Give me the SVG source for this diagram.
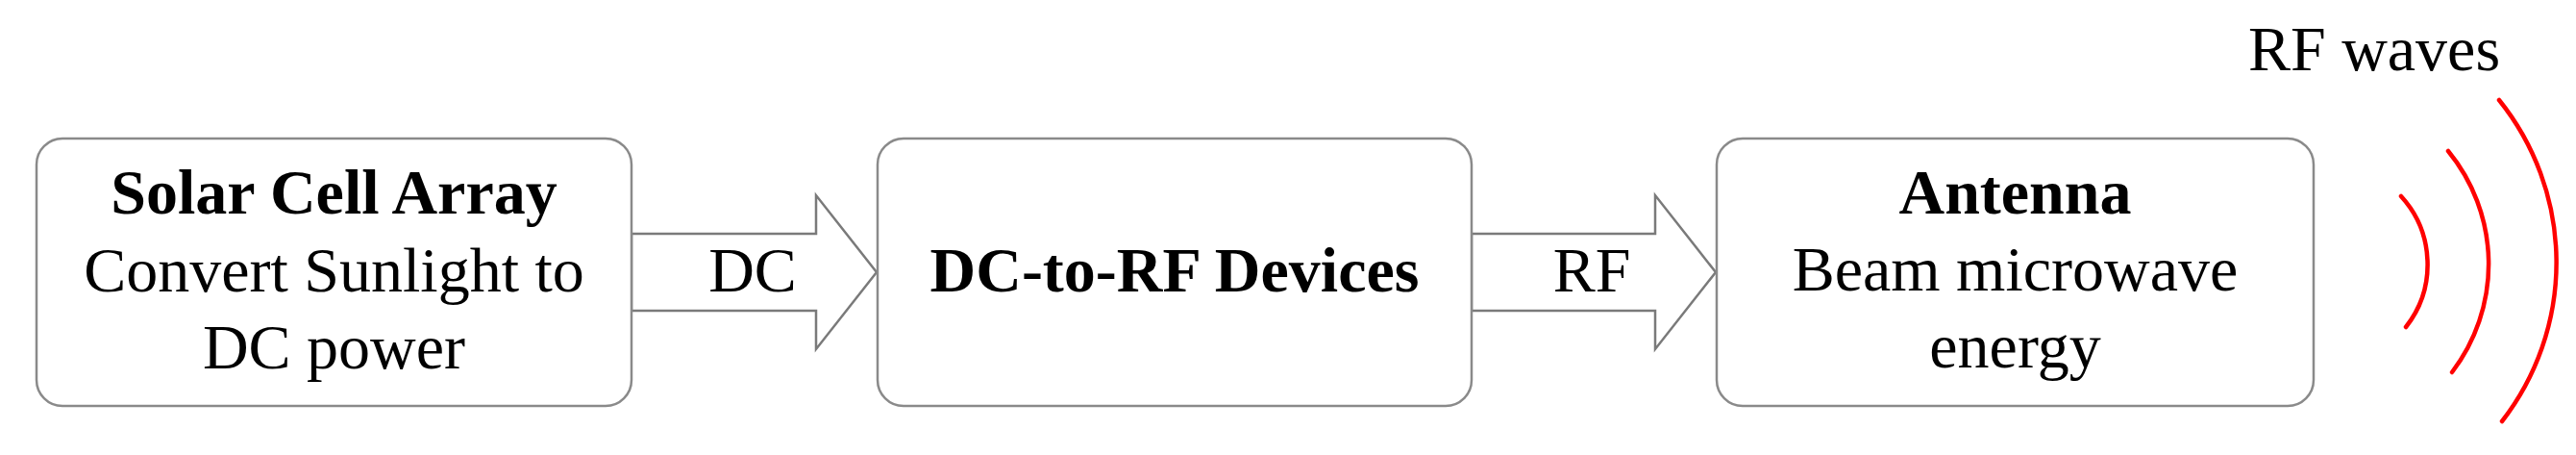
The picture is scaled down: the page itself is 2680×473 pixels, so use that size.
<svg xmlns="http://www.w3.org/2000/svg" width="2680" height="473" viewBox="0 0 2680 473">
<style>
.box{fill:#ffffff;stroke:#8a8a8a;stroke-width:2.5}
.arrow{fill:#ffffff;stroke:#7a7a7a;stroke-width:2.5;stroke-linejoin:miter}
.t{font-family:"Liberation Serif","Times New Roman",serif;font-size:66px;fill:#000;text-anchor:middle}
.b{font-weight:bold}
.wave{fill:none;stroke:#ff0000;stroke-width:4.5;stroke-linecap:round}
</style>
<rect width="2680" height="473" fill="#ffffff"/>
<g id="connectors">
<path class="arrow" d="M657 243 H849 V203 L912 283 L849 363 V323 H657 Z"/>
<text class="t" x="783" y="303">DC</text>
<path class="arrow" d="M1531 243 H1722 V203 L1785 283 L1722 363 V323 H1531 Z"/>
<text class="t" x="1656" y="303">RF</text>
</g>
<g id="solar">
<rect class="box" x="38" y="144" width="619" height="278" rx="27" ry="27"/>
<text class="t b" x="347.5" y="222">Solar Cell Array</text>
<text class="t" x="347.5" y="303">Convert Sunlight to</text>
<text class="t" x="347.5" y="383">DC power</text>
</g>
<g id="dcrf">
<rect class="box" x="913" y="144" width="618" height="278" rx="27" ry="27"/>
<text class="t b" x="1222" y="303">DC-to-RF Devices</text>
</g>
<g id="antenna">
<rect class="box" x="1786" y="144" width="621" height="278" rx="27" ry="27"/>
<text class="t b" x="2096.5" y="222">Antenna</text>
<text class="t" x="2096.5" y="302">Beam microwave</text>
<text class="t" x="2096.5" y="382">energy</text>
</g>
<g id="waves">
<path class="wave" d="M2498 204 A105 105 0 0 1 2503 340"/>
<path class="wave" d="M2547 157 A185 185 0 0 1 2551 387"/>
<path class="wave" d="M2600 104 A269 269 0 0 1 2603 438"/>
<text class="t" x="2470" y="73">RF waves</text>
</g>
</svg>
